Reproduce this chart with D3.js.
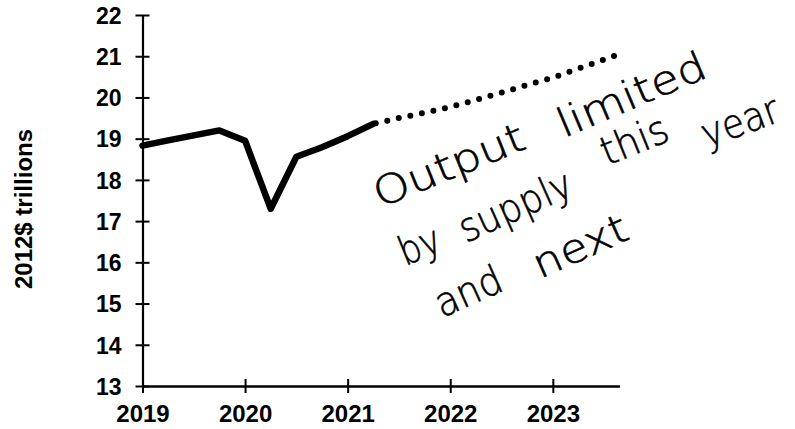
<!DOCTYPE html>
<html><head><meta charset="utf-8">
<script src="https://cdn.jsdelivr.net/npm/d3@7"></script>
<style>
html,body{margin:0;padding:0;background:#fff;}
svg{display:block;}
</style></head>
<body>
<svg id="chart" width="795" height="429"></svg>
<script>
// Data (decimal year, 2012$ trillions)
const actualYears  = [2019.0, 2019.25, 2019.5, 2019.75, 2020.0, 2020.25, 2020.5, 2020.75, 2021.0, 2021.25];
const actualValues = [18.83, 18.96, 19.08, 19.2, 18.95, 17.3, 18.56, 18.79, 19.06, 19.36];
const projYears    = [2021.25, 2021.5, 2021.75, 2022.0, 2022.25, 2022.5, 2022.75, 2023.0, 2023.25, 2023.5, 2023.65];
const projValues   = [19.36, 19.5, 19.63, 19.77, 19.94, 20.12, 20.3, 20.48, 20.7, 20.92, 21.05];
const xTicks = [2019, 2020, 2021, 2022, 2023];
const yTicks = [13, 14, 15, 16, 17, 18, 19, 20, 21, 22];
const yLabel = "2012$ trillions";
const noteWords = ["Output", "limited", "by", "supply", "this", "year", "and", "next"];

const svg = d3.select("#chart");
const x = d3.scaleLinear().domain([2019, 2023.65]).range([142.5, 619.5]);
const y = d3.scaleLinear().domain([13, 22]).range([386, 15]);

const font = "'Liberation Sans', Arial, sans-serif";

// X axis
const gx = svg.append("g").attr("transform", `translate(0,${y(13)})`)
  .call(d3.axisBottom(x).tickValues(xTicks).tickFormat(d3.format("d")).tickSize(7).tickSizeOuter(0));
gx.select(".domain").attr("stroke", "#000").attr("stroke-width", 2.4);
gx.selectAll(".tick line").attr("y1", -7).attr("stroke", "#000").attr("stroke-width", 2);
gx.selectAll(".tick text").attr("y", 36).attr("dy", 0)
  .attr("font-family", font).attr("font-weight", "bold").attr("font-size", 24).attr("fill", "#000");

// Y axis
const gy = svg.append("g").attr("transform", `translate(${x(2019)},0)`)
  .call(d3.axisLeft(y).tickValues(yTicks).tickFormat(d3.format("d")).tickSize(7).tickSizeOuter(0));
gy.select(".domain").attr("stroke", "#000").attr("stroke-width", 2.2);
gy.selectAll(".tick line").attr("x1", 7).attr("stroke", "#000").attr("stroke-width", 2);
gy.selectAll(".tick text").attr("x", -21).attr("dy", "0.36em")
  .attr("font-family", font).attr("font-weight", "bold").attr("font-size", 23).attr("fill", "#000");

// Y label
svg.append("text")
  .attr("transform", `translate(32,209) rotate(-90)`)
  .attr("text-anchor", "middle")
  .attr("font-family", font).attr("font-weight", "bold").attr("font-size", 24)
  .text(yLabel);

const line = d3.line().x(d => x(d[0])).y(d => y(d[1]));

// Projection dotted line
svg.append("path")
  .datum(projYears.map((d, i) => [d, projValues[i]]))
  .attr("d", line)
  .attr("fill", "none").attr("stroke", "#000").attr("stroke-width", 6)
  .attr("stroke-linecap", "round")
  .attr("stroke-dasharray", "0 11.8")
  .attr("stroke-dashoffset", -2.5);

// Actual line
svg.append("path")
  .datum(actualYears.map((d, i) => [d, actualValues[i]]))
  .attr("d", line)
  .attr("fill", "none").attr("stroke", "#000").attr("stroke-width", 6.5)
  .attr("stroke-linejoin", "round").attr("stroke-linecap", "round");

// Handwritten note, word by word
const hand = "'DejaVu Sans', sans-serif";
const wordPos = [
  {x: 380, y: 208, len: 160, rot: -22},
  {x: 564, y: 138, len: 158, rot: -23},
  {x: 405, y: 266, len: 42,  rot: -22},
  {x: 466, y: 243, len: 120, rot: -24},
  {x: 607, y: 166, len: 70,  rot: -22},
  {x: 707, y: 148, len: 80,  rot: -20},
  {x: 442, y: 318, len: 70,  rot: -24},
  {x: 540, y: 279, len: 100, rot: -24}
];
noteWords.forEach((t, i) => {
  const p = wordPos[i];
  svg.append("text")
    .attr("transform", `translate(${p.x},${p.y}) rotate(${p.rot})`)
    .attr("font-family", hand).attr("font-weight", 200)
    .attr("font-size", 40).attr("fill", "#000")
    .attr("stroke", "#000").attr("stroke-width", 0.6)
    .attr("textLength", p.len).attr("lengthAdjust", "spacingAndGlyphs")
    .text(t);
});
</script>
</body></html>
